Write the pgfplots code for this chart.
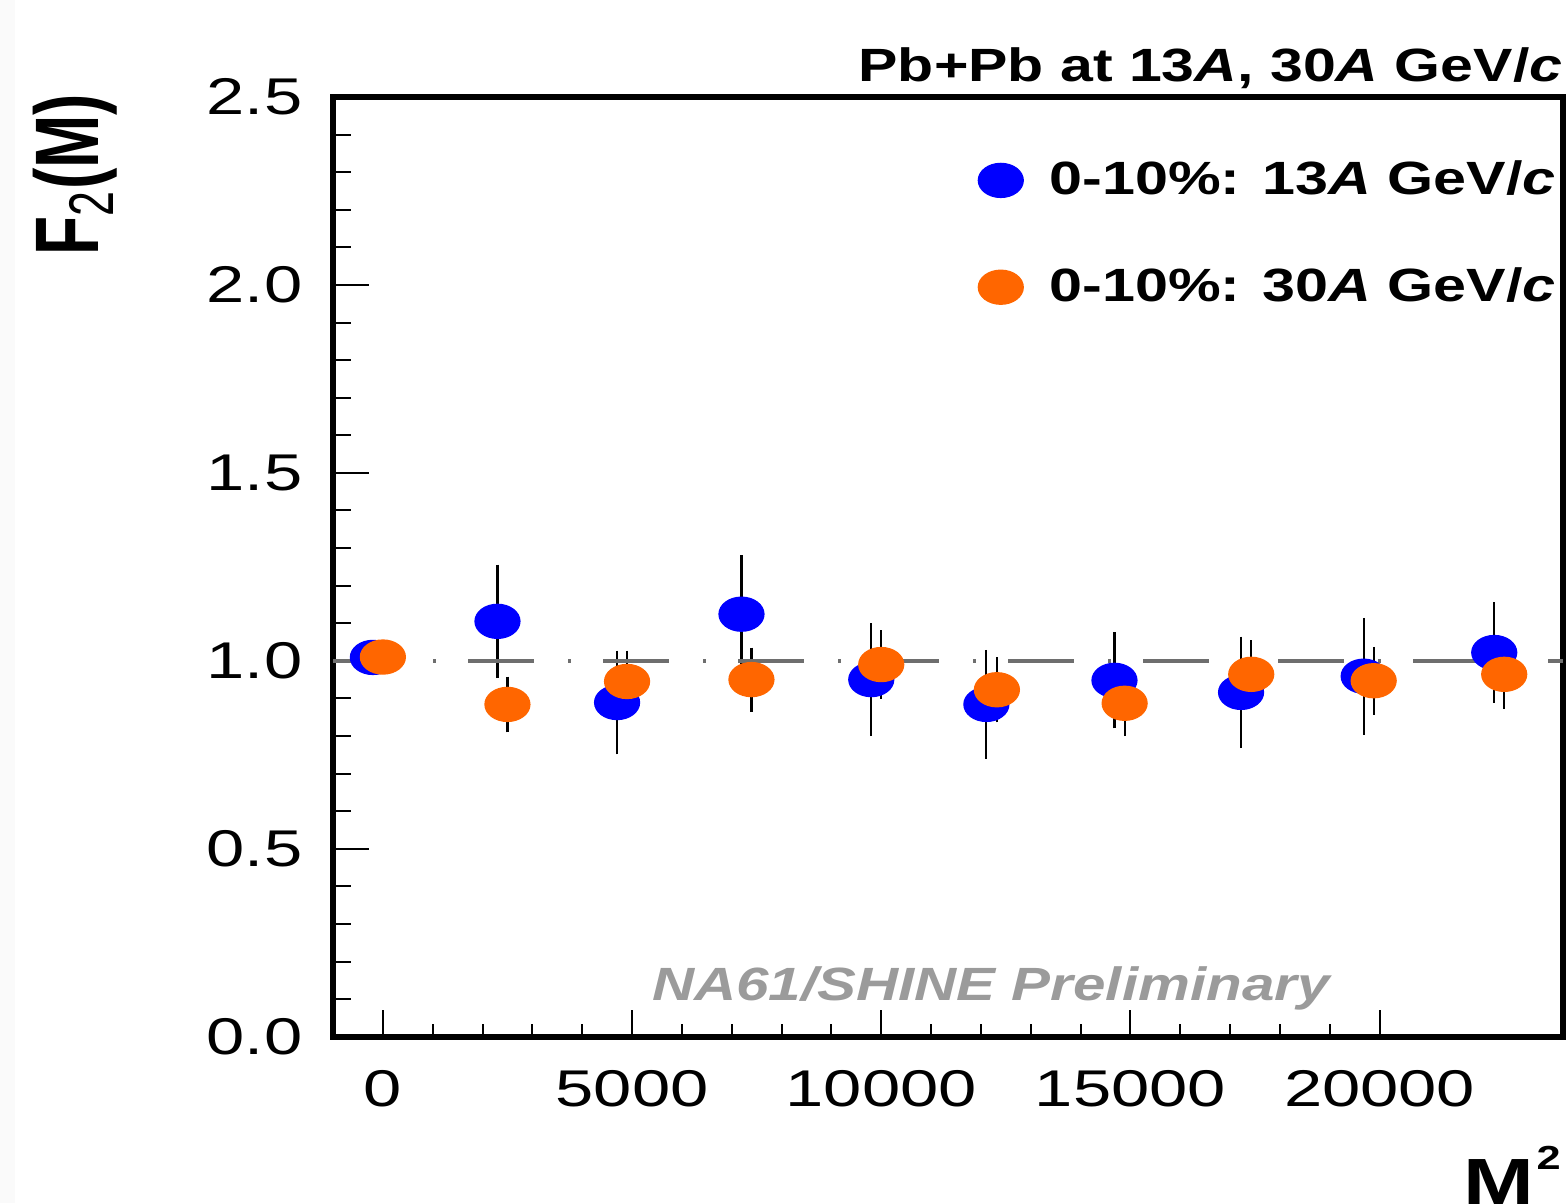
\documentclass[border=0pt]{standalone}
\usepackage{pgfplots}
\pgfplotsset{compat=1.18}
\usepackage{pgfplotstable}
\usepackage{fontspec}
\setmainfont{Liberation Sans}
\usepackage{graphicx}
\newcommand{\tl}[1]{\scalebox{1.33}[1]{#1}}
\definecolor{myblue}{RGB}{0,0,255}
\definecolor{myorange}{RGB}{255,102,0}
\definecolor{dashgray}{RGB}{110,110,110}
\definecolor{prelim}{RGB}{155,155,155}
\pgfplotsset{mylegimg/.style={legend image code/.code={\path (-7pt,0pt) (12.4pt,0pt); \draw[##1] plot coordinates {(0pt,0pt)};}}}

\pgfplotstableread{
x y e
-200 1.009 0.03
2300 1.105 0.144
4700 0.889 0.131
7196 1.124 0.150
9800 0.950 0.143
12110 0.884 0.138
14680 0.948 0.121
17220 0.916 0.141
19680 0.959 0.148
22300 1.022 0.127
}\blueT
\pgfplotstableread{
x y e
1 1.010 0.03
2500 0.884 0.067
4900 0.945 0.075
7396 0.950 0.078
10000 0.990 0.084
12321 0.923 0.080
14884 0.887 0.080
17424 0.964 0.083
19881 0.947 0.083
22500 0.964 0.084
}\orangeT

\begin{document}
\begin{tikzpicture}
\fill[gray!4] (-99.9pt,-49.95pt) rectangle (-95.4pt,311pt);
\begin{axis}[
  at={(0,0)}, anchor=south west,
  scale only axis, width=369pt, height=281.9pt,
  xmin=-1000, xmax=23680, ymin=0, ymax=2.5,
  scaled x ticks=false, scaled y ticks=false,
  axis line style={line width=1.8pt},
  tick align=inside,
  xtick pos=bottom, ytick pos=left,
  xtick={0,5000,10000,15000,20000},
  xticklabels={{\tl{0}},{\tl{5000}},{\tl{10000}},{\tl{15000}},{\tl{20000}}},
  ytick={0,0.5,1,1.5,2,2.5},
  yticklabels={{\tl{0.0}},{\tl{0.5}},{\tl{1.0}},{\tl{1.5}},{\tl{2.0}},{\tl{2.5}}},
  minor x tick num=4, minor y tick num=4,
  major tick length=10.8pt, minor tick length=5.4pt,
  xtick style={/pgfplots/major tick length=8.1pt, /pgfplots/minor tick length=3.9pt},
  tick style={black, line width=0.6pt},
  xticklabel style={font=\fontsize{15.5}{18}\selectfont, yshift=-6.7pt},
  yticklabel style={font=\fontsize{15.5}{18}\selectfont, xshift=-5.7pt},
  legend style={draw=none, fill=none, at={(rel axis cs:1,1)}, anchor=north east,
    yshift=-17pt, font=\fontsize{14}{16}\selectfont\bfseries, row sep=16.4pt, inner sep=0pt},
  legend cell align=left,
]
\addplot[only marks, mark=*, mark size=5.1pt, color=myblue,
  mark options={xscale=1.32, fill=myblue, draw=myblue}, mylegimg,
  error bars/.cd, y dir=both, y explicit,
  error bar style={black, line width=0.65pt},
  error mark options={black, line width=0.65pt, mark size=0.8pt}]
  table[x=x, y=y, y error=e] {\blueT};
\addlegendentry{\scalebox{1.27}[1]{0-10\%: 13\textit{A} GeV/\textit{c}}}
\addplot[only marks, mark=*, mark size=5.1pt, color=myorange,
  mark options={xscale=1.32, fill=myorange, draw=myorange}, mylegimg,
  error bars/.cd, y dir=both, y explicit,
  error bar style={black, line width=0.65pt},
  error mark options={black, line width=0.65pt, mark size=0.8pt}]
  table[x=x, y=y, y error=e] {\orangeT};
\addlegendentry{\scalebox{1.27}[1]{0-10\%: 30\textit{A} GeV/\textit{c}}}
\addplot[dashgray, line width=1.2pt, dash pattern=on 19.8pt off 10.2pt on 1pt off 9.5pt, forget plot]
  coordinates {(-1000,1) (23680,1)};
\end{axis}
\node[anchor=base east, inner sep=0pt] at (369pt,286.4pt)
  {\fontsize{14}{16}\selectfont\bfseries\scalebox{1.265}[1]{Pb+Pb at 13\textit{A}, 30\textit{A} GeV/\textit{c}}};
\node[anchor=base, inner sep=0pt, text=prelim] at (197.4pt,10.95pt)
  {\fontsize{14}{16}\selectfont\bfseries\itshape\scalebox{1.25}[1]{NA61/SHINE Preliminary}};
\node[rotate=90, anchor=base east, inner sep=0pt] at (-70.2pt,283pt)
  {\scalebox{1}[1.41]{\fontsize{19.2}{21}\selectfont\bfseries F\textsubscript{\mdseries 2}(M)}};
\node[anchor=base east, inner sep=0pt] at (368.5pt,-50.3pt)
  {\fontsize{19.6}{22}\selectfont\bfseries\scalebox{1.3}[1]{M\hspace{0.5pt}\raisebox{10.5pt}{\fontsize{10}{12}\selectfont 2}}};
\pgfresetboundingbox
\useasboundingbox (-99.9pt,-49.95pt) rectangle (369.9pt,311pt);
\end{tikzpicture}
\end{document}
